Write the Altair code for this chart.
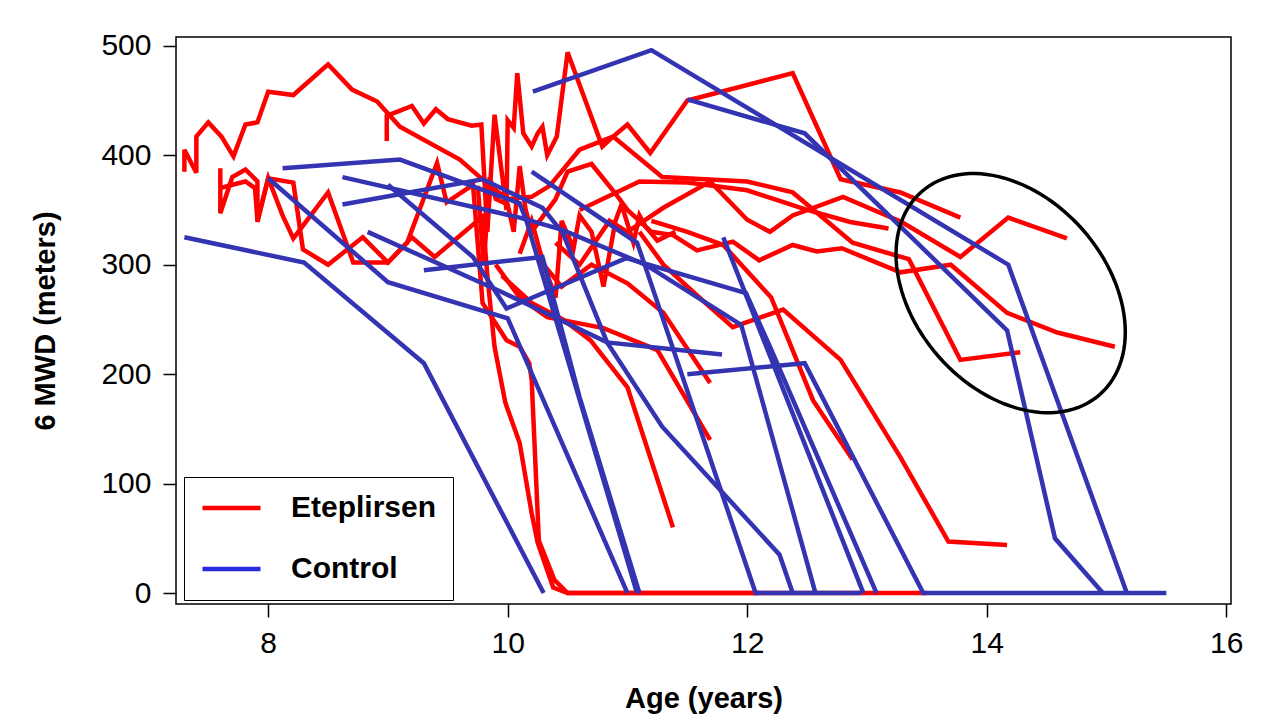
import altair as alt
import pandas as pd
import numpy as np

# ---- Eteplirsen patients (age in years, 6MWD in meters) ----
E01 = [(7.3,385),(7.3,405),(7.4,384),(7.4,417),(7.5,430),(7.61,417),(7.71,399),(7.81,428),(7.91,430),(8.0,458),(8.21,455),(8.5,483),(8.7,460),(8.91,449),(9.0,438),(9.1,426),(9.6,396),(9.85,372),(10.0,360),(10.2,362),(10.35,372),(10.6,405),(10.88,417),(11.29,380),(12.0,376),(12.38,366),(12.88,320),(13.35,305),(13.78,213),(14.28,220)]
E02 = [(8.99,413),(8.99,436),(9.2,445),(9.3,429),(9.4,442),(9.5,433),(9.7,427),(9.78,428),(9.83,330),(9.89,437),(9.99,350),(10.0,432),(10.05,425),(10.08,475),(10.13,420),(10.2,408),(10.25,420),(10.29,426),(10.33,400),(10.41,417),(10.5,494),(10.79,408),(10.88,417),(11.0,428),(11.19,402),(11.5,450),(12.38,475),(12.78,378),(13.28,366),(13.78,343)]
E03 = [(7.6,388),(7.6,347),(7.7,380),(7.81,387),(7.91,376),(7.91,339),(8.0,379),(8.21,375),(8.29,314),(8.5,300),(8.79,325),(9.0,302),(9.2,325),(9.39,307),(9.79,344),(9.83,290),(9.89,225),(9.98,174),(10.1,137),(10.2,73),(10.25,46),(10.38,5),(10.5,0),(12.1,0)]
E04 = [(7.6,370),(7.7,373),(7.81,376),(7.89,370),(7.91,340),(8.0,379),(8.12,345),(8.21,324),(8.5,366),(8.71,302),(9.0,302),(9.16,320),(9.41,393),(9.49,357),(9.71,373),(9.79,265),(9.99,231),(10.1,225),(10.18,210),(10.2,195),(10.26,48),(10.39,12),(10.5,0),(13.5,0)]
E05 = [(9.75,372),(9.8,300),(9.85,380),(9.9,360),(10.0,355),(10.05,330),(10.1,390),(10.15,350),(10.2,330),(10.3,345),(10.4,360),(10.5,385),(10.7,392),(10.9,365),(11.0,350),(11.2,330),(11.38,327),(11.58,313),(11.88,321),(12.1,304),(12.38,318),(12.58,312),(12.79,315),(13.28,293),(13.7,300),(14.17,256),(14.59,238),(15.07,225)]
E06 = [(10.4,320),(10.6,300),(10.85,340),(11.0,330),(11.3,352),(11.69,376),(12.0,341),(12.19,330),(12.38,345),(12.8,362),(13.29,339),(13.78,307),(14.18,343),(14.67,324)]
E07 = [(10.6,350),(11.1,376),(11.5,375),(12.0,368),(12.5,350),(12.86,339),(13.18,333)]
E08 = [(9.95,290),(10.2,265),(10.46,250),(10.69,231),(11.0,188),(11.38,60)]
E09 = [(9.9,300),(10.1,270),(10.33,252),(10.8,242),(11.25,222),(11.69,140)]
E10 = [(10.3,300),(10.45,280),(10.7,300),(11.0,283),(11.3,256),(11.69,192)]
E11 = [(11.1,330),(11.3,300),(11.6,270),(11.88,243),(12.3,259),(12.78,213),(13.28,124),(13.68,47),(14.17,44)]
E12 = [(11.2,340),(11.5,330),(11.8,318),(12.2,270),(12.55,176),(12.88,122)]
E13 = [(10.1,310),(10.2,340),(10.3,300),(10.4,270),(10.45,340),(10.55,315),(10.6,345),(10.7,330),(10.8,280),(10.9,340),(10.95,355),(11.05,320),(11.1,345),(11.15,335),(11.25,322),(11.4,330)]

# ---- Control patients ----
C01 = [(7.3,325),(8.3,302),(9.3,210),(10.3,0)]
C02 = [(8.12,388),(9.1,396),(10.1,356),(10.16,339),(11.08,0)]
C03 = [(8.0,379),(9.0,284),(10.0,251),(11.0,0)]
C04 = [(8.62,380),(10.1,343),(10.45,332),(11.15,300),(11.95,245),(12.57,0)]
C05 = [(8.62,355),(9.79,378),(10.29,352),(10.46,329),(10.83,229),(11.29,152),(12.27,35),(12.38,0)]
C06 = [(9.0,373),(9.71,307),(9.99,260),(10.99,306),(11.99,274),(12.19,225),(13.08,0)]
C07 = [(10.2,385),(11.08,320),(11.15,298),(12.07,0),(12.95,0)]
C08 = [(9.3,295),(10.29,307),(10.6,179),(11.1,0)]
C09 = [(8.83,330),(9.95,275),(10.83,229),(11.79,218)]
C10 = [(11.8,325),(12.97,0)]
C11 = [(11.5,200),(12.48,210),(13.47,0),(15.5,0)]
C12 = [(10.21,458),(11.2,496),(14.18,300),(15.17,0)]
C13 = [(11.5,451),(12.48,420),(14.17,240),(14.57,50),(14.97,0)]

eteplirsen = [E01,E02,E03,E04,E05,E06,E07,E08,E09,E10,E11,E12,E13]
control = [C01,C02,C03,C04,C05,C06,C07,C08,C09,C10,C11,C12,C13]

groups = ["Eteplirsen", "Control"]
line_colors = {"Eteplirsen": "#ff0000", "Control": "#3434b2"}
legend_colors = ["#ff0000", "#2a2ae0"]
x_ticks = [8, 10, 12, 14, 16]
y_ticks = [0, 100, 200, 300, 400, 500]
x_dom = [7.23, 16.04]
y_dom = [-10, 508]

rows = []
for gname, series in (("Eteplirsen", eteplirsen), ("Control", control)):
    for i, s in enumerate(series):
        for k, (a, m) in enumerate(s):
            rows.append({"id": f"{gname}{i}", "group": gname, "age": a, "mwd": m, "k": k})
df = pd.DataFrame(rows)
# one point per group: draws nothing, only feeds the legend
leg_df = pd.DataFrame({"group": groups, "age": [x_ticks[0]] * 2, "mwd": [y_ticks[0]] * 2})

W, H = 1055, 567
FONT = "Liberation Sans"

# highlight ellipse (annotation) in data units
sx = W / (x_dom[1] - x_dom[0])
sy = H / (y_dom[1] - y_dom[0])
cx, cy, ea, eb, phi = 14.2, 274, 135, 96, np.radians(48.7)
t = np.linspace(0, 2 * np.pi, 121)
dxp = ea * np.cos(t) * np.cos(phi) - eb * np.sin(t) * np.sin(phi)
dyp = ea * np.cos(t) * np.sin(phi) + eb * np.sin(t) * np.cos(phi)
ell = pd.DataFrame({"age": cx + dxp / sx, "mwd": cy - dyp / sy, "k": np.arange(len(t))})

xs = alt.Scale(domain=x_dom, nice=False, zero=False)
ys = alt.Scale(domain=y_dom, nice=False, zero=False)

xax = alt.Axis(values=x_ticks, format="d", title="Age (years)", grid=False, domain=False,
               tickSize=13, tickWidth=1.5, tickColor="black",
               labelFont=FONT, labelFontSize=30, labelColor="black", labelPadding=11,
               titleFont=FONT, titleFontSize=29, titleFontWeight="bold", titleColor="black",
               titlePadding=26)
yax = alt.Axis(values=y_ticks, format="d", title="6 MWD (meters)", grid=False, domain=False,
               tickSize=13, tickWidth=1.5, tickColor="black",
               labelFont=FONT, labelFontSize=30, labelColor="black", labelPadding=12,
               titleFont=FONT, titleFontSize=29, titleFontWeight="bold", titleColor="black",
               titlePadding=40)

legend = alt.Legend(orient="none", legendX=8, legendY=440, title=None,
                    symbolType="stroke", symbolStrokeWidth=4.5, symbolSize=3364,
                    clipHeight=30,
                    labelFont=FONT, labelFontSize=30, labelFontWeight="bold", labelColor="black",
                    labelOffset=28, rowPadding=31, padding=16,
                    strokeColor="black", fillColor="white", labelLimit=400)

def group_layer(g):
    return alt.Chart(df).transform_filter(alt.datum.group == g).mark_line(
        strokeWidth=4.5, strokeJoin="miter", color=line_colors[g]).encode(
        x=alt.X("age:Q", scale=xs, axis=xax),
        y=alt.Y("mwd:Q", scale=ys, axis=yax),
        detail="id:N",
        order="k:Q",
    )

red = group_layer("Eteplirsen")
blue = group_layer("Control")

legend_layer = alt.Chart(leg_df).mark_line(strokeWidth=4.5).encode(
    x=alt.X("age:Q", scale=xs), y=alt.Y("mwd:Q", scale=ys),
    color=alt.Color("group:N", scale=alt.Scale(domain=groups, range=legend_colors), legend=legend),
)

ellipse = alt.Chart(ell).mark_line(strokeWidth=3.5, color="black").encode(
    x=alt.X("age:Q", scale=xs), y=alt.Y("mwd:Q", scale=ys), order="k:Q")

chart = alt.layer(red, blue, ellipse, legend_layer).properties(
    width=W, height=H,
    background="white",
    autosize=alt.AutoSizeParams(type="none"),
    padding={"left": 168, "top": 29, "right": 26, "bottom": 111},
).configure_view(stroke="black", strokeWidth=1.5)

chart.save("out.html", embed_options={"renderer": "svg", "actions": False})
